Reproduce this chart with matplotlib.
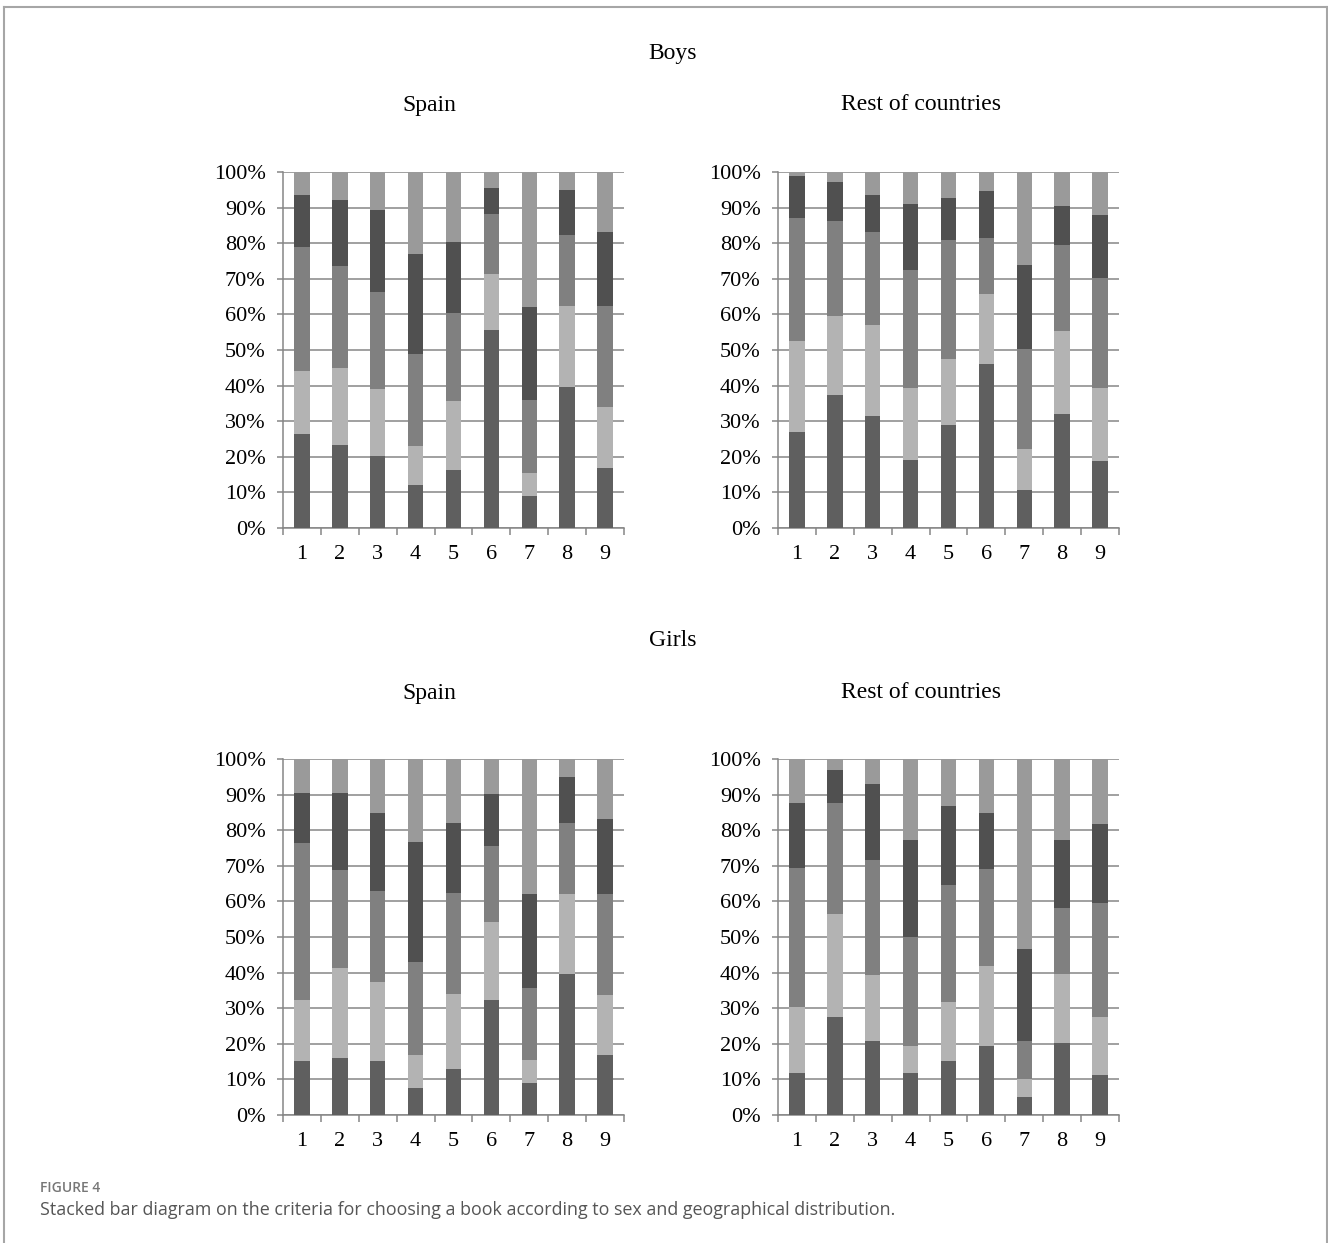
import matplotlib
matplotlib.use('Agg')
import matplotlib.pyplot as plt
from matplotlib.lines import Line2D
import numpy as np

W, H = 1328, 1243

CATEGORIES = ['1', '2', '3', '4', '5', '6', '7', '8', '9']
Y_TICKS = [0, 10, 20, 30, 40, 50, 60, 70, 80, 90, 100]
Y_LABELS = ['{}%'.format(v) for v in Y_TICKS]

# stacked segments, bottom to top (percent)
boys_spain = [
    [26.3, 23.4, 20.2, 12.1, 16.2, 55.6, 9.1, 39.6, 16.9],
    [17.9, 21.5, 18.8, 11.0, 19.6, 15.7, 6.4, 22.7, 17.0],
    [34.8, 28.6, 27.4, 25.7, 24.6, 17.0, 20.4, 20.0, 28.4],
    [14.4, 18.5, 23.0, 28.3, 20.0, 7.3, 26.2, 12.7, 20.9],
    [6.6, 8.0, 10.6, 22.9, 19.6, 4.4, 37.9, 5.0, 16.8],
]
boys_rest = [
    [27.0, 37.4, 31.6, 19.2, 29.0, 46.2, 10.6, 31.9, 18.9],
    [25.4, 22.2, 25.3, 20.2, 18.5, 19.4, 11.5, 23.3, 20.5],
    [34.8, 26.6, 26.2, 33.2, 33.5, 16.0, 28.3, 24.2, 30.7],
    [11.7, 11.1, 10.3, 18.5, 11.7, 13.1, 23.4, 11.0, 17.7],
    [1.1, 2.7, 6.6, 8.9, 7.3, 5.3, 26.2, 9.6, 12.2],
]
girls_spain = [
    [15.2, 15.9, 15.2, 7.7, 12.9, 32.4, 9.0, 39.5, 16.9],
    [17.2, 25.4, 22.2, 9.1, 21.2, 21.8, 6.5, 22.5, 16.8],
    [43.9, 27.5, 25.6, 26.3, 28.3, 21.5, 20.2, 20.1, 28.3],
    [14.2, 21.7, 21.7, 33.5, 19.7, 14.5, 26.3, 12.8, 21.1],
    [9.5, 9.5, 15.3, 23.4, 17.9, 9.8, 38.0, 5.1, 16.9],
]
girls_rest = [
    [11.9, 27.6, 20.8, 11.9, 15.2, 19.4, 5.1, 20.2, 11.2],
    [18.5, 28.9, 18.6, 7.5, 16.5, 22.5, 5.0, 19.3, 16.3],
    [39.1, 31.1, 32.3, 30.5, 32.9, 27.3, 10.7, 18.6, 32.0],
    [18.1, 9.2, 21.2, 27.3, 22.1, 15.5, 25.9, 19.1, 22.3],
    [12.4, 3.2, 7.1, 22.8, 13.3, 15.3, 53.3, 22.8, 18.2],
]

SEG_COLORS = ['#5f5f5f', '#b3b3b3', '#808080', '#505050', '#9a9a9a']
GRID = '#868686'
SERIF = 'Liberation Serif'


def px_axes(fig, left, top, right, bottom):
    return fig.add_axes([left / W, 1 - bottom / H, (right - left) / W,
                         (bottom - top) / H])


def draw_panel(ax, series):
    x = np.arange(1, len(CATEGORIES) + 1)
    base = np.zeros(len(CATEGORIES))
    for vals, col in zip(series, SEG_COLORS):
        ax.bar(x, vals, bottom=base, width=0.41, color=col, linewidth=0,
               zorder=3)
        base = base + np.array(vals)
    ax.set_xlim(0.5, 9.5)
    ax.set_ylim(0, 100)
    ax.set_yticks(Y_TICKS)
    ax.set_yticklabels(Y_LABELS, fontfamily=SERIF, fontsize=16)
    ax.set_xticks(np.arange(0.5, 10.0, 1.0))
    ax.set_xticklabels([])
    ax.set_xticks(x, minor=True)
    ax.set_xticklabels(CATEGORIES, minor=True, fontfamily=SERIF, fontsize=16)
    ax.tick_params(axis='x', which='major', length=5, width=1.1, color=GRID,
                   direction='out')
    ax.tick_params(axis='x', which='minor', length=0, pad=12)
    ax.tick_params(axis='y', length=4.5, width=1.1, color=GRID, pad=8)
    ax.yaxis.grid(True, color=GRID, linewidth=1.1, zorder=0)
    ax.set_axisbelow(True)
    for side in ['top', 'right']:
        ax.spines[side].set_visible(False)
    for side in ['left', 'bottom']:
        ax.spines[side].set_color(GRID)
        ax.spines[side].set_linewidth(1.1)


fig = plt.figure(figsize=(W / 100, H / 100), dpi=100)

panels = [
    (boys_spain, 283, 172, 624, 528),
    (boys_rest, 778, 172, 1119, 528),
    (girls_spain, 283, 759, 624, 1115),
    (girls_rest, 778, 759, 1119, 1115),
]
for series, l, t, r, b in panels:
    draw_panel(px_axes(fig, l, t, r, b), series)

titles = [
    ('Boys', 673, 53), ('Spain', 429, 105), ('Rest of countries', 921, 105),
    ('Girls', 673, 640), ('Spain', 429, 693), ('Rest of countries', 921, 693),
]
for txt, x, y in titles:
    fig.text(x / W, 1 - y / H, txt, ha='center', va='center',
             fontfamily=SERIF, fontsize=17)

fig.text(40 / W, 1 - 1188 / H, 'FIGURE 4', ha='left', va='center',
         fontfamily='Open Sans', fontsize=10, fontweight='semibold',
         color='#777777')
fig.text(40 / W, 1 - 1210 / H,
         'Stacked bar diagram on the criteria for choosing a book according '
         'to sex and geographical distribution.',
         ha='left', va='center', fontfamily='Open Sans', fontsize=12.9,
         color='#555555')

# page frame
bc = '#a6a6a6'
fig.add_artist(Line2D([4 / W, 4 / W], [0, 1 - 7 / H], color=bc, lw=1.5,
                      transform=fig.transFigure))
fig.add_artist(Line2D([4 / W, 1327 / W], [1 - 7 / H, 1 - 7 / H], color=bc,
                      lw=1.5, transform=fig.transFigure))
fig.add_artist(Line2D([1327 / W, 1327 / W], [0, 1 - 7 / H], color=bc, lw=1.5,
                      transform=fig.transFigure))

fig.savefig('out.png', dpi=100)
